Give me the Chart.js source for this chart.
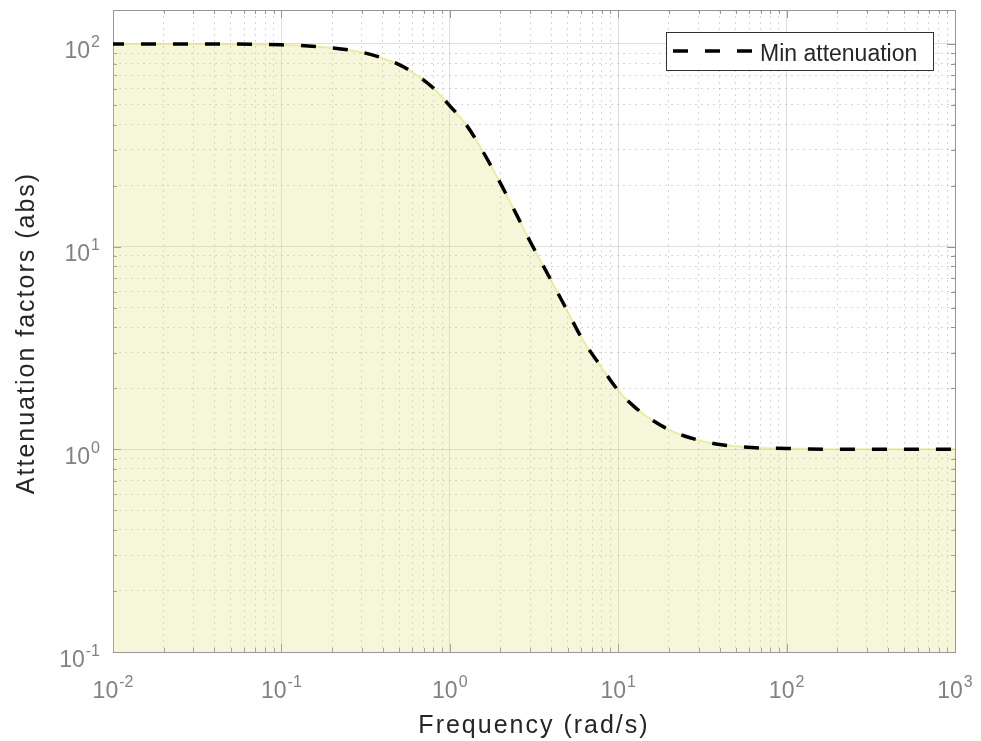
<!DOCTYPE html>
<html>
<head>
    <meta charset="UTF-8">
    <title>Min attenuation</title>
    <script src="https://cdn.jsdelivr.net/npm/chart.js"></script>
    <style>
        body {
            margin: 0;
            background: #ffffff;
        }
    </style>
</head>
<body>
    <canvas id="attChart" width="981" height="741"></canvas>

    <script>
        // Data
        const freq = [0.01, 0.03, 0.1, 0.2, 0.3, 0.4, 0.5, 0.6, 0.8, 1, 1.25, 1.5, 2, 2.5, 3, 4, 5, 6, 8, 10,
                      12.5, 15, 20, 25, 30, 40, 50, 70, 100, 200, 1000];
        const minAtten = [100, 100, 99, 95.5, 91, 85, 79, 72.5, 60.5, 49.5, 40, 31.5, 20.5, 14.3, 10.6, 6.8, 4.8, 3.6, 2.52, 1.95,
                          1.62, 1.44, 1.25, 1.16, 1.11, 1.055, 1.035, 1.015, 1.01, 1.0, 1.0];
        const seriesLabel = 'Min attenuation';

        // Axes
        const xMajor = [0.01, 0.1, 1, 10, 100, 1000];
        const xExp = ['-2', '-1', '0', '1', '2', '3'];
        const yMajor = [0.1, 1, 10, 100];
        const yExp = ['-1', '0', '1', '2'];
        const yTop = 147;
        const xTitle = 'Frequency (rad/s)';
        const yTitle = 'Attenuation factors (abs)';

        const FONT = '"Liberation Sans", Arial, Helvetica, sans-serif';
        const boxColor = 'rgb(150,150,150)';
        const labelColor = 'rgb(130,130,130)';
        const titleColor = 'rgb(38,38,38)';

        // majors plus 2..9 minors in every decade, kept under max
        function logTicks(majors, max) {
            const out = [];
            majors.forEach(m => {
                out.push({ value: m, major: true });
                for (let k = 2; k <= 9; k++) {
                    if (m * k <= max) out.push({ value: m * k, major: false });
                }
            });
            return out.filter(t => t.value <= max);
        }

        function drawPow(ctx, exp, x, y, align) {
            ctx.font = '23px ' + FONT;
            const wBase = ctx.measureText('10').width;
            ctx.font = '16px ' + FONT;
            const wExp = ctx.measureText(exp).width;
            const total = wBase + 1 + wExp;
            const left = align === 'center' ? x - total / 2 : x - total;
            ctx.textAlign = 'left';
            ctx.textBaseline = 'alphabetic';
            ctx.font = '23px ' + FONT;
            ctx.fillText('10', left, y);
            ctx.font = '16px ' + FONT;
            ctx.fillText(exp, left + wBase + 1, y - 11);
        }

        const matlabAxes = {
            id: 'matlabAxes',
            beforeDatasetsDraw(chart) {
                const ctx = chart.ctx;
                const a = chart.chartArea;
                const xs = chart.scales.x, ys = chart.scales.y;
                ctx.save();
                ctx.strokeStyle = boxColor;
                ctx.lineWidth = 1;
                ctx.strokeRect(Math.round(a.left) + 0.5, Math.round(a.top) + 0.5,
                               Math.round(a.right - a.left), Math.round(a.bottom - a.top));
                ctx.beginPath();
                xs.ticks.forEach(t => {
                    const px = Math.round(xs.getPixelForValue(t.value)) + 0.5;
                    const len = t.major ? 8 : 4;
                    ctx.moveTo(px, a.bottom); ctx.lineTo(px, a.bottom - len);
                    ctx.moveTo(px, a.top); ctx.lineTo(px, a.top + len);
                });
                ys.ticks.forEach(t => {
                    const py = Math.round(ys.getPixelForValue(t.value)) + 0.5;
                    const len = t.major ? 8 : 4;
                    ctx.moveTo(a.left, py); ctx.lineTo(a.left + len, py);
                    ctx.moveTo(a.right, py); ctx.lineTo(a.right - len, py);
                });
                ctx.stroke();
                ctx.restore();
            },
            afterDraw(chart) {
                const ctx = chart.ctx;
                const a = chart.chartArea;
                const xs = chart.scales.x, ys = chart.scales.y;
                ctx.save();
                ctx.fillStyle = labelColor;
                xMajor.forEach((v, i) => drawPow(ctx, xExp[i], xs.getPixelForValue(v), a.bottom + 46, 'center'));
                yMajor.forEach((v, i) => drawPow(ctx, yExp[i], a.left - 13, ys.getPixelForValue(v) + 14.5, 'right'));

                // axis titles
                ctx.fillStyle = titleColor;
                ctx.font = '25px ' + FONT;
                ctx.letterSpacing = '2px';
                ctx.textAlign = 'center';
                ctx.textBaseline = 'alphabetic';
                ctx.fillText(xTitle, (a.left + a.right) / 2, 733);
                ctx.save();
                ctx.translate(34, 333);
                ctx.rotate(-Math.PI / 2);
                ctx.fillText(yTitle, 0, 0);
                ctx.restore();
                ctx.letterSpacing = '0px';

                // legend
                const lx = 666.5, ly = 32.5, lw = 267, lh = 38;
                ctx.fillStyle = '#ffffff';
                ctx.fillRect(lx, ly, lw, lh);
                ctx.strokeStyle = 'rgb(50,50,50)';
                ctx.lineWidth = 1;
                ctx.strokeRect(lx, ly, lw, lh);
                ctx.strokeStyle = '#000000';
                ctx.lineWidth = 3.5;
                ctx.setLineDash([15, 17]);
                ctx.beginPath();
                ctx.moveTo(673, 51);
                ctx.lineTo(753, 51);
                ctx.stroke();
                ctx.setLineDash([]);
                ctx.fillStyle = titleColor;
                ctx.font = '23px ' + FONT;
                ctx.textAlign = 'left';
                ctx.fillText(seriesLabel, 760, 61);
                ctx.restore();
            }
        };

        const gridColor = c => (c.tick && c.tick.major) ? 'rgba(38,38,38,0.15)' : 'rgba(38,38,38,0.18)';
        const gridDash = c => (c.tick && !c.tick.major) ? [2, 4] : [];

        const chart = new Chart(document.getElementById('attChart'), {
            type: 'line',
            data: {
                labels: freq,
                datasets: [{
                    label: seriesLabel,
                    data: freq.map((f, i) => ({ x: f, y: minAtten[i] })),
                    borderColor: '#000000',
                    borderWidth: 3.5,
                    borderDash: [15, 17],
                    borderDashOffset: 4,
                    pointRadius: 0,
                    fill: false,
                    cubicInterpolationMode: 'monotone',
                    order: 0
                }, {
                    label: 'area',
                    data: freq.map((f, i) => ({ x: f, y: minAtten[i] })),
                    borderColor: 'rgba(225,225,120,0.6)',
                    borderWidth: 2,
                    backgroundColor: 'rgba(220,220,110,0.25)',
                    pointRadius: 0,
                    fill: 'start',
                    cubicInterpolationMode: 'monotone',
                    order: 1
                }]
            },
            options: {
                responsive: false,
                animation: false,
                layout: {
                    padding: { top: 10, right: 26, left: 0, bottom: 0 }
                },
                plugins: {
                    legend: { display: false },
                    tooltip: { enabled: false }
                },
                scales: {
                    x: {
                        type: 'logarithmic',
                        min: 0.01,
                        max: 1000,
                        afterBuildTicks: s => { s.ticks = logTicks(xMajor, 1000); },
                        afterFit: s => { s.height = 89; },
                        ticks: { display: false, autoSkip: false },
                        grid: { color: gridColor, lineWidth: 1, drawTicks: false },
                        border: { display: false, dash: gridDash }
                    },
                    y: {
                        type: 'logarithmic',
                        min: 0.1,
                        max: yTop,
                        afterBuildTicks: s => { s.ticks = logTicks(yMajor, yTop); },
                        afterFit: s => { s.width = 113; },
                        ticks: { display: false, autoSkip: false },
                        grid: { color: gridColor, lineWidth: 1, drawTicks: false },
                        border: { display: false, dash: gridDash }
                    }
                }
            },
            plugins: [matlabAxes]
        });
    </script>
</body>
</html>
